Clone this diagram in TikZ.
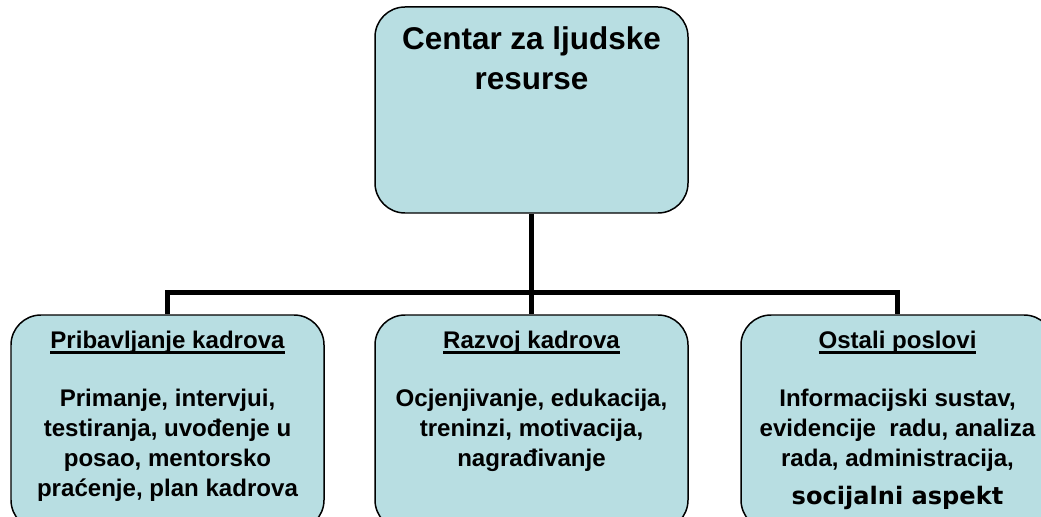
\documentclass[tikz,border=0pt]{standalone}
\usepackage{fontspec}
\setmainfont{Liberation Sans}
\newfontfamily\dejavu{DejaVu Sans}
\usetikzlibrary{positioning}
\definecolor{boxfill}{RGB}{184,222,226}
\newcommand{\hdr}[1]{\setbox0\hbox{#1}\rlap{\rule[-0.11cm]{\wd0}{0.06cm}}\box0}

\begin{document}
\begin{tikzpicture}[
  box/.style={draw=black, line width=0.85pt, fill=boxfill, rounded corners=0.6cm,
    minimum width=6.26cm, minimum height=4.3cm, inner sep=0},
  txt/.style={align=center, inner sep=0, font=\bfseries\fontsize{13.7}{17}\selectfont},
  conn/.style={line width=2.8pt}]

\useasboundingbox (0,0) rectangle (20.82,-10.34);
\clip (0,0) rectangle (20.82,-10.34);

% top box
\node[box, minimum height=4.12cm] (hr) at (10.63,-2.2) {};
\node[txt, font=\bfseries\fontsize{17.9}{22.7}\selectfont, below=0.4cm of hr.north] (hrT)
  {Centar za ljudske\\resurse};

% children
\node[box] (prib) at (3.35,-8.45) {};
\node[box] (razvoj) at (10.63,-8.45) {};
\node[box] (ostali) at (17.95,-8.45) {};

\node[txt, below=0.32cm of prib.north] (pribT)
  {\hdr{Pribavljanje kadrova}\\[0.58cm]
   Primanje, intervjui,\\testiranja, uvođenje u\\posao, mentorsko\\praćenje, plan kadrova};
\node[txt, below=0.32cm of razvoj.north] (razvojT)
  {\hdr{Razvoj kadrova}\\[0.58cm]
   Ocjenjivanje, edukacija,\\treninzi, motivacija,\\nagrađivanje};
\node[txt, below=0.32cm of ostali.north] (ostaliT)
  {\hdr{Ostali poslovi}\\[0.58cm]
   Informacijski sustav,\\evidencije\ \ radu, analiza\\rada, administracija,\\[0.16cm]
   {\dejavu\bfseries socijalni aspekt}};

% connectors
\draw[conn] (hr.south) -- (razvoj.north);
\draw[conn] (prib.north) -- ++(0,0.44) -| (ostali.north);

\end{tikzpicture}
\end{document}
